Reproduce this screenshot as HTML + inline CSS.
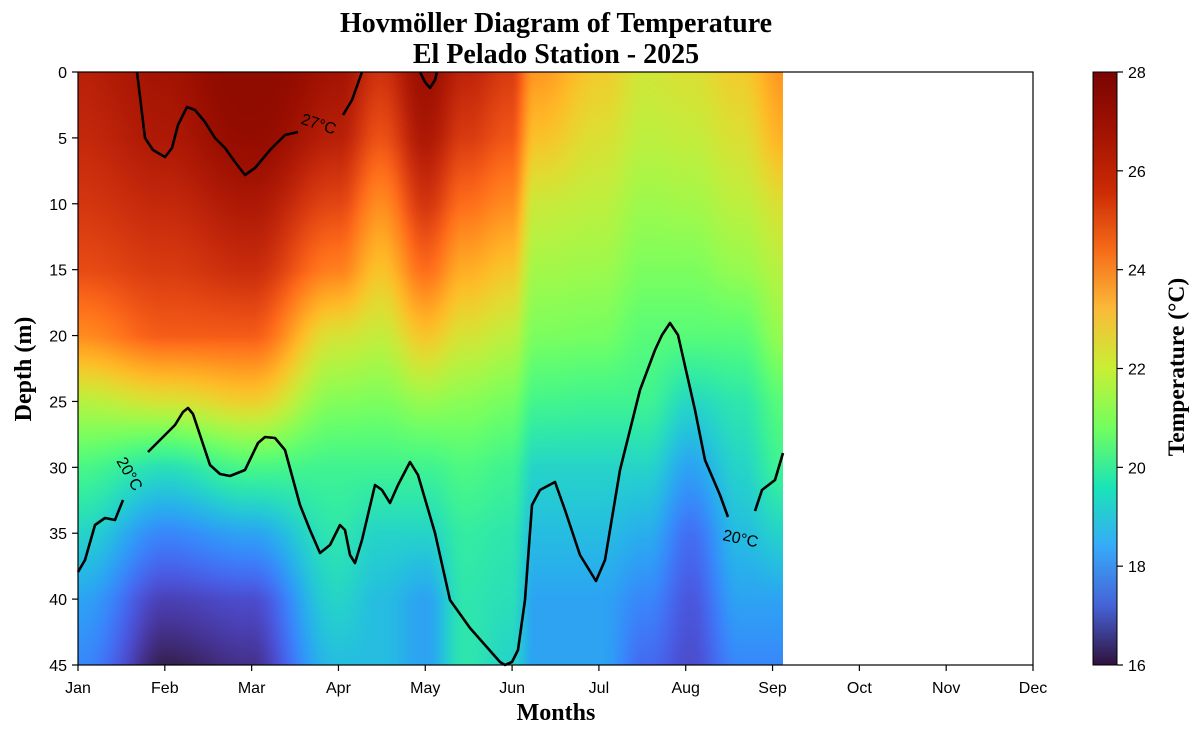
<!DOCTYPE html>
<html><head><meta charset="utf-8"><style>
body{margin:0;background:#fff;width:1200px;height:738px;overflow:hidden;position:relative;font-family:"Liberation Sans",sans-serif}
canvas{position:absolute;left:78px;top:72px}
svg{position:absolute;left:0;top:0}
</style></head><body>
<canvas id="c" width="705" height="593"></canvas>
<svg width="1200" height="738" xmlns="http://www.w3.org/2000/svg">
<defs><linearGradient id="cb" x1="0" y1="1" x2="0" y2="0">
<stop offset="0" stop-color="#30123b"/><stop offset="0.1" stop-color="#4662d7"/><stop offset="0.2" stop-color="#36aaf9"/><stop offset="0.3" stop-color="#1ae4b6"/><stop offset="0.4" stop-color="#72fe5e"/><stop offset="0.5" stop-color="#c8ef34"/><stop offset="0.6" stop-color="#faba39"/><stop offset="0.7" stop-color="#f66b19"/><stop offset="0.8" stop-color="#cb2a04"/><stop offset="0.9" stop-color="#a11201"/><stop offset="1" stop-color="#7a0403"/>
</linearGradient></defs>
<g font-family="Liberation Serif,serif" font-weight="bold" text-anchor="middle" fill="#000">
<text x="556" y="32" font-size="28">Hovmöller Diagram of Temperature</text>
<text x="556" y="63" font-size="28">El Pelado Station - 2025</text>
<text x="556" y="720" font-size="24">Months</text>
<text transform="translate(31,369) rotate(-90)" font-size="24">Depth (m)</text>
<text transform="translate(1184,367) rotate(-90)" font-size="23.5">Temperature (°C)</text>
</g>
<g fill="none" stroke="#000" stroke-width="2.6" stroke-linejoin="round">
<path d="M137,72 L145,138 L153,150 L165,157 L172,148 L178,125 L187,107 L195,110 L205,122 L215,138 L225,148 L235,162 L245,175 L255,168 L270,150 L285,135 L298,132"/>
<path d="M343,115 L352,100 L362,72"/>
<path d="M420,72 L425,82 L430,88 L435,80 L437,72"/>
<path d="M78,572 L85,560 L95,525 L105,518 L115,520 L123,500"/>
<path d="M148,452 L162,438 L175,425 L183,412 L188,408 L193,414 L200,435 L210,465 L220,474 L230,476 L245,470 L258,443 L265,437 L275,438 L285,450 L300,505 L310,530 L320,553 L330,545 L340,525 L345,530 L350,555 L355,563 L362,540 L375,485 L382,490 L390,503 L398,485 L410,462 L418,475 L435,533 L450,600 L470,628 L500,662 L505,665 L512,662 L518,650 L525,600 L532,505 L540,490 L555,482 L565,510 L580,555 L596,581 L605,560 L620,470 L640,390 L655,350 L662,335 L670,323 L678,335 L695,410 L705,460 L720,495 L728,517"/>
<path d="M755,511 L762,490 L775,480 L783,453"/>
</g>
<g font-size="16" fill="#000">
<text x="299" y="130" transform="rotate(18 320 130)">27°C</text>
<text transform="translate(116,461) rotate(60)">20°C</text>
<text transform="translate(722,540) rotate(12)">20°C</text>
</g>
<rect x="78" y="72" width="955" height="593" fill="none" stroke="#000" stroke-width="1.2"/>
<g stroke="#000" stroke-width="1.2" id="ticks"></g>
<g font-size="16" fill="#000" id="labels"></g>
<rect x="1093" y="72" width="24" height="593" fill="url(#cb)" stroke="#000" stroke-width="1"/>
</svg>
<script>
const NS="http://www.w3.org/2000/svg";
const tk=document.getElementById('ticks'),lb=document.getElementById('labels');
function L(x1,y1,x2,y2){const l=document.createElementNS(NS,'line');l.setAttribute('x1',x1);l.setAttribute('y1',y1);l.setAttribute('x2',x2);l.setAttribute('y2',y2);tk.appendChild(l);}
function T(x,y,s,a){const t=document.createElementNS(NS,'text');t.setAttribute('x',x);t.setAttribute('y',y);t.setAttribute('text-anchor',a);t.textContent=s;lb.appendChild(t);}
for(let i=0;i<=9;i++){const y=72+i*593/9;L(72,y,78,y);T(67,y+6,String(i*5),'end');}
const m=['Jan','Feb','Mar','Apr','May','Jun','Jul','Aug','Sep','Oct','Nov','Dec'];
for(let i=0;i<12;i++){const x=78+i*955/11;L(x,665,x,671);T(x,693,m[i],'middle');}
for(let i=0;i<=6;i++){const y=665-i*593/6;L(1117,y,1123,y);T(1128,y+6,String(16+2*i),'start');}
const cols=[[0,[26.8,26.6,26.3,25.9,24.8,22.5,20.7,19.5,18.5,18]],
[87,[27.2,27,26.6,26.2,25.6,23,19.8,18,16.8,16.2]],
[172,[28,27.6,27,26.5,25.6,23.5,20.7,18.5,17,16.5]],
[259,[27.2,26.8,26,25,23,21.7,20.5,20,19.5,19]],
[302,[26.4,25.8,24.8,23.8,22.7,21.6,20.5,19.5,19,19]],
[347,[27.4,27,26.3,25.3,23.7,22,20.5,19.5,18.5,18.5]],
[387,[26.7,26.2,25.3,24.2,23,21.8,20.8,20.2,20,20]],
[432,[26.2,25.7,24.8,23.7,22.6,21.5,20.5,20,19.8,19.5]],
[457,[24.6,23.8,22.8,22.2,21.6,20.6,19.5,19,18.5,18.5]],
[522,[23.6,23.1,22.6,22.1,21.5,20.5,19.5,19,18.5,18.5]],
[567,[22.9,22.6,22.1,21.6,21,20.5,19.5,18.7,18,17.5]],
[612,[23.1,22.7,22.2,21.6,21,19.6,18.5,17.6,17.2,17]],
[662,[23.6,23.1,22.6,22,21,20,19.5,19,18.5,18]],
[705,[24.6,24.1,23.1,22.5,22,21,20.5,19.5,18.5,18]]];
function turbo(t){t=Math.max(0,Math.min(1,t));
const r=0.13572138+t*(4.61539260+t*(-42.66032258+t*(132.13108234+t*(-152.94239396+t*59.28637943))));
const g=0.09140261+t*(2.19418839+t*(4.84296658+t*(-14.18503333+t*(4.27729857+t*2.82956604))));
const b=0.10667330+t*(12.64194608+t*(-60.58204836+t*(110.36276771+t*(-89.90310912+t*27.34824973))));
return [r,g,b].map(v=>Math.max(0,Math.min(255,Math.round(v*255))));}
const c=document.getElementById('c'),ctx=c.getContext('2d'),W=705,H=593,img=ctx.createImageData(W,H);
for(let x=0;x<W;x++){let k=0;while(k<cols.length-2&&cols[k+1][0]<x)k++;
let f=(x-cols[k][0])/(cols[k+1][0]-cols[k][0]);f=Math.max(0,Math.min(1,f));f=(1-Math.cos(Math.PI*f))/2;
const a=cols[k][1],b=cols[k+1][1];
for(let y=0;y<H;y++){const d=y/H*9;const i=Math.min(8,Math.floor(d));const g=d-i;
const va=a[i]+(a[i+1]-a[i])*g,vb=b[i]+(b[i+1]-b[i])*g;const v=va+(vb-va)*f;
const col=turbo((v-16)/12);const p=(y*W+x)*4;img.data[p]=col[0];img.data[p+1]=col[1];img.data[p+2]=col[2];img.data[p+3]=255;}}
ctx.putImageData(img,0,0);
</script>
</body></html>
